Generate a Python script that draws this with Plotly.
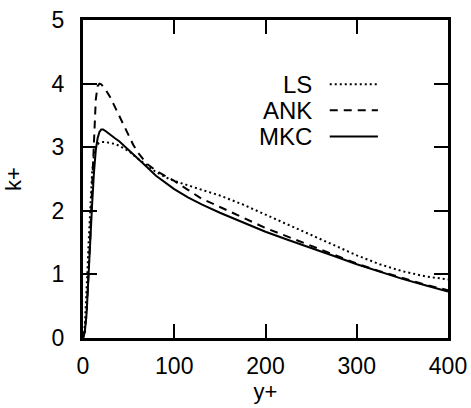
import plotly.graph_objects as go

# y+ / k+ values
ls_x = [0, 1, 2, 3, 4, 5, 6, 7, 8, 10, 12, 14, 17, 20, 25, 30, 35, 40, 45, 50, 60, 70, 80, 90, 100, 115, 130, 150, 175, 200, 225, 250, 275, 300, 325, 350, 375, 400]
ls_y = [0, 0.05, 0.2, 0.45, 0.75, 1.1, 1.45, 1.8, 2.1, 2.6, 2.88, 3.0, 3.06, 3.08, 3.08, 3.07, 3.05, 3.02, 2.98, 2.94, 2.82, 2.71, 2.61, 2.53, 2.47, 2.4, 2.33, 2.24, 2.1, 1.94, 1.78, 1.61, 1.45, 1.3, 1.16, 1.05, 0.97, 0.92]

ank_x = [0, 2, 4, 6, 8, 10, 12, 14, 16, 18, 20, 22, 25, 30, 35, 40, 45, 50, 55, 60, 70, 80, 90, 100, 115, 130, 150, 175, 200, 225, 250, 275, 300, 325, 350, 375, 400]
ank_y = [0, 0.1, 0.4, 0.9, 1.6, 2.4, 3.2, 3.75, 3.96, 4.0, 3.99, 3.96, 3.9, 3.78, 3.63, 3.48, 3.33, 3.18, 3.04, 2.92, 2.74, 2.63, 2.55, 2.47, 2.33, 2.19, 2.06, 1.9, 1.73, 1.59, 1.45, 1.31, 1.17, 1.05, 0.94, 0.84, 0.75]

mkc_x = [0, 2, 4, 6, 8, 10, 12, 14, 16, 18, 20, 22, 25, 30, 35, 40, 50, 60, 70, 80, 90, 100, 115, 130, 150, 175, 200, 225, 250, 275, 300, 325, 350, 375, 400]
mkc_y = [0, 0.1, 0.4, 0.9, 1.5, 2.1, 2.6, 2.95, 3.14, 3.24, 3.28, 3.28, 3.25, 3.19, 3.14, 3.09, 2.96, 2.83, 2.69, 2.55, 2.44, 2.34, 2.21, 2.1, 1.97, 1.82, 1.67, 1.54, 1.42, 1.29, 1.16, 1.04, 0.93, 0.83, 0.73]

series_names = ["LS", "ANK", "MKC"]
x_ticks = [0, 100, 200, 300, 400]
y_ticks = [0, 1, 2, 3, 4, 5]

FONT = "Liberation Sans, Arial, sans-serif"
dashes = {"LS": "2px,3px", "ANK": "8px,6px", "MKC": "solid"}

fig = go.Figure()
for name, xs, ys in [("LS", ls_x, ls_y), ("ANK", ank_x, ank_y), ("MKC", mkc_x, mkc_y)]:
    fig.add_trace(go.Scatter(x=xs, y=ys, mode="lines", name=name, line_shape="linear",
                             line=dict(color="black", width=2, dash=dashes[name]),
                             showlegend=False, hoverinfo="skip"))

# manual legend: text then line sample on the right
rows_y = [0.798, 0.716, 0.634]
for name, ry in zip(series_names, rows_y):
    fig.add_annotation(xref="paper", yref="paper", x=0.633, y=ry, text=name,
                       showarrow=False, xanchor="right", yanchor="middle",
                       font=dict(family=FONT, size=24, color="black"))
    fig.add_shape(type="line", xref="paper", yref="paper", x0=0.676, x1=0.808, y0=ry, y1=ry,
                  line=dict(color="black", width=2, dash=dashes[name]))

axis_common = dict(showline=True, linecolor="black", linewidth=3, mirror="ticks",
                   ticks="inside", ticklen=14, tickwidth=2, tickcolor="black",
                   showgrid=False, zeroline=False, automargin=False,
                   tickfont=dict(family=FONT, size=23, color="black"))

fig.update_xaxes(range=[0, 400], tickvals=x_ticks, ticktext=[str(v) for v in x_ticks],
                 title=dict(text="y+", font=dict(family=FONT, size=22, color="black"), standoff=4),
                 ticklabelstandoff=5, **axis_common)
fig.update_yaxes(range=[0, 5], tickvals=y_ticks, ticktext=[str(v) for v in y_ticks],
                 title=dict(text="k+", font=dict(family=FONT, size=22, color="black"), standoff=24),
                 ticklabelstandoff=11, **axis_common)

fig.update_layout(width=471, height=408, margin=dict(l=83, r=23, t=20, b=70),
                  paper_bgcolor="white", plot_bgcolor="white", showlegend=False,
                  hovermode=False)

fig.write_html("out.html", config={"displayModeBar": False, "staticPlot": True},
               post_script="document.body.style.margin='0';document.body.style.overflow='hidden';")
